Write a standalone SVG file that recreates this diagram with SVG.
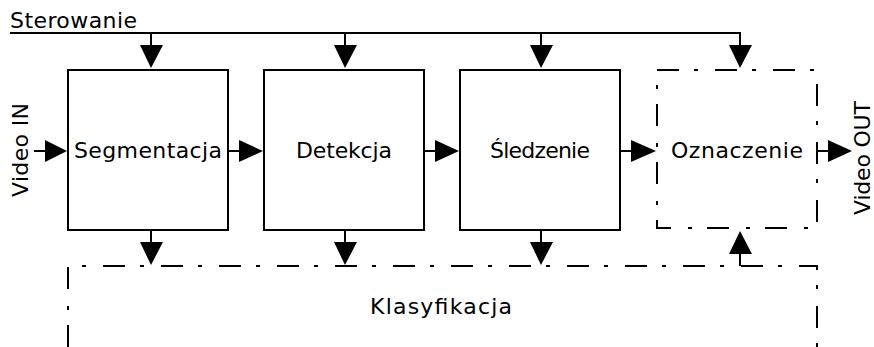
<svg xmlns="http://www.w3.org/2000/svg" width="874" height="347" viewBox="0 0 874 347">
  <style>
    .box { fill: none; stroke: #000; stroke-width: 2; }
    .dash { fill: none; stroke: #000; stroke-width: 2; stroke-dasharray: 22 15 4 17; }
    .wire { fill: none; stroke: #000; stroke-width: 2; }
    .head { fill: #000; }
    text { font-family: "DejaVu Sans", "Liberation Sans", sans-serif; font-size: 22px; fill: #000; }
  </style>
  <rect width="874" height="347" fill="#fff"/>

  <g id="segmentacja">
    <rect class="box" x="68" y="70" width="160" height="160"/>
    <text x="148" y="158" text-anchor="middle" textLength="148">Segmentacja</text>
  </g>
  <g id="detekcja">
    <rect class="box" x="264" y="70" width="160" height="160"/>
    <text x="344" y="158" text-anchor="middle" textLength="96">Detekcja</text>
  </g>
  <g id="sledzenie">
    <rect class="box" x="460" y="70" width="160" height="160"/>
    <text x="540" y="158" text-anchor="middle" textLength="100">Śledzenie</text>
  </g>
  <g id="oznaczenie">
    <rect class="dash" x="657" y="70" width="160" height="158"/>
    <text x="737" y="158" text-anchor="middle" textLength="132">Oznaczenie</text>
  </g>
  <g id="klasyfikacja">
    <path class="dash" d="M68,347 V266 H817 V347"/>
    <text x="441" y="314" text-anchor="middle" textLength="142">Klasyfikacja</text>
  </g>
  <g id="sterowanie">
    <text x="10" y="28" textLength="127">Sterowanie</text>
  </g>
  <g id="video-in">
    <text transform="translate(28,150) rotate(-90)" text-anchor="middle" textLength="94">Video IN</text>
  </g>
  <g id="video-out">
    <text transform="translate(870,158) rotate(-90)" text-anchor="middle" textLength="114">Video OUT</text>
  </g>

  <g id="connectors">
    <!-- control bus -->
    <path class="wire" d="M10,33 H740 V50"/>
    <path class="wire" d="M151,33 V50 M345,33 V50 M541,33 V50"/>
    <path class="head" d="M140,45 H163 L151,68 Z M334,45 H357 L345,68 Z M530,45 H553 L541,68 Z M729,45 H752 L740,68 Z"/>
    <!-- data flow -->
    <path class="wire" d="M34,151 H50 M228,151 H244 M424,151 H440 M620,151 H640 M817,151 H836"/>
    <path class="head" d="M45,140 V162 L67,151 Z M239,140 V162 L263,151 Z M435,140 V162 L459,151 Z M631,140 V162 L656,151 Z M828,140 V162 L852,151 Z"/>
    <!-- to classification -->
    <path class="wire" d="M151,230 V246 M345,230 V246 M541,230 V246 M740,266 V250"/>
    <path class="head" d="M140,242 H163 L151,265 Z M334,242 H357 L345,265 Z M530,242 H553 L541,265 Z M729,254 H752 L740,231 Z"/>
  </g>
</svg>
